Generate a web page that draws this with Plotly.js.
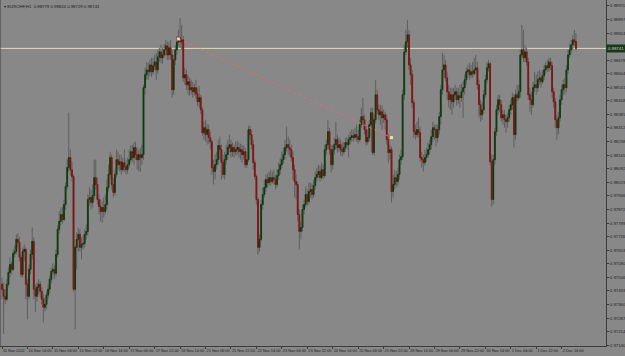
<!DOCTYPE html>
<html>
<head>
<meta charset="utf-8">
<script src="https://cdn.plot.ly/plotly-3.0.1.min.js"></script>
<style>
html,body{margin:0;padding:0;background:#888888;}
#chart{width:625px;height:356px;}
</style>
</head>
<body>
<div id="chart"></div>
<script>
// EURCHF H1, 11 Nov 2022 22:00 -> 2 Dec 2022 23:00 (one value per hourly bar)
const openP = [
0.97469,0.97442,0.97404,0.97388,0.97469,0.97533,0.97576,0.97549,0.97635,0.97646,
0.97711,0.97695,0.97614,0.97522,0.97646,0.97657,0.97469,0.97404,0.97549,0.97630,
0.97700,0.97442,0.97404,0.97453,0.97469,0.97431,0.97388,0.97345,0.97361,0.97410,
0.97442,0.97496,0.97539,0.97549,0.97528,0.97630,0.97765,0.97808,0.97845,0.97818,
0.97899,0.97996,0.98098,0.98152,0.98087,0.98050,0.97442,0.97668,0.97711,0.97738,
0.97668,0.97684,0.97689,0.97738,0.97754,0.97926,0.97937,0.97910,0.97947,0.98044,
0.98007,0.97926,0.97888,0.97861,0.97883,0.97861,0.97899,0.97991,0.98061,0.98152,
0.98007,0.97964,0.98061,0.98141,0.98114,0.98130,0.98087,0.98125,0.98103,0.98087,
0.98114,0.98141,0.98184,0.98152,0.98206,0.98168,0.98141,0.98168,0.98152,0.98168,
0.98529,0.98599,0.98625,0.98615,0.98652,0.98615,0.98647,0.98668,0.98625,0.98695,
0.98722,0.98690,0.98706,0.98733,0.98755,0.98706,0.98744,0.98706,0.98518,0.98679,
0.98733,0.98776,0.98798,0.98776,0.98787,0.98582,0.98599,0.98545,0.98561,0.98518,
0.98529,0.98507,0.98529,0.98496,0.98453,0.98475,0.98410,0.98286,0.98313,0.98276,
0.98303,0.98260,0.98238,0.98098,0.98077,0.98114,0.98141,0.98217,0.98195,0.98125,
0.98061,0.98141,0.98168,0.98206,0.98222,0.98184,0.98206,0.98184,0.98195,0.98206,
0.98184,0.98195,0.98168,0.98184,0.98114,0.98141,0.98303,0.98276,0.98222,0.98125,
0.98050,0.97926,0.97668,0.97711,0.97899,0.97953,0.97991,0.98034,0.98017,0.98044,
0.98023,0.98044,0.98034,0.98007,0.98055,0.98087,0.98114,0.98141,0.98168,0.98206,
0.98222,0.98206,0.98195,0.98152,0.98087,0.98023,0.98007,0.97845,0.97754,0.97775,
0.97872,0.97899,0.97953,0.97915,0.97969,0.97980,0.97953,0.98001,0.98044,0.98061,
0.98077,0.98044,0.98087,0.98055,0.98195,0.98222,0.98292,0.98195,0.98114,0.98195,
0.98222,0.98249,0.98206,0.98222,0.98195,0.98184,0.98206,0.98233,0.98222,0.98249,
0.98260,0.98270,0.98260,0.98276,0.98265,0.98249,0.98330,0.98373,0.98356,0.98303,
0.98238,0.98260,0.98330,0.98394,0.98179,0.98356,0.98491,0.98410,0.98383,0.98399,
0.98367,0.98383,0.98356,0.98249,0.98179,0.98195,0.97969,0.98007,0.98044,0.98023,
0.98061,0.98141,0.98157,0.98491,0.98722,0.98776,0.98814,0.98652,0.98599,0.98448,
0.98292,0.98276,0.98303,0.98286,0.98152,0.98141,0.98125,0.98152,0.98168,0.98195,
0.98222,0.98265,0.98313,0.98303,0.98260,0.98303,0.98373,0.98518,0.98625,0.98652,
0.98582,0.98507,0.98464,0.98491,0.98453,0.98491,0.98507,0.98464,0.98486,0.98475,
0.98507,0.98529,0.98572,0.98615,0.98625,0.98599,0.98615,0.98604,0.98625,0.98636,
0.98545,0.98437,0.98383,0.98410,0.98491,0.98572,0.98636,0.98658,0.98130,0.97926,
0.98141,0.98292,0.98410,0.98464,0.98437,0.98367,0.98383,0.98356,0.98346,0.98367,
0.98410,0.98437,0.98475,0.98276,0.98491,0.98475,0.98507,0.98706,0.98733,0.98690,
0.98722,0.98668,0.98491,0.98464,0.98437,0.98529,0.98545,0.98529,0.98572,0.98582,
0.98561,0.98593,0.98625,0.98647,0.98636,0.98668,0.98647,0.98507,0.98453,0.98356,
0.98313,0.98367,0.98464,0.98518,0.98545,0.98529,0.98625,0.98706,0.98733,0.98760,
0.98787,0.98779];
const highP = [
0.97506,0.97479,0.97442,0.97496,0.97560,0.97614,0.97592,0.97657,0.97679,0.97738,
0.97743,0.97722,0.97630,0.97668,0.97684,0.97668,0.97496,0.97576,0.97657,0.97775,
0.97722,0.97469,0.97479,0.97496,0.97485,0.97453,0.97415,0.97399,0.97431,0.97469,
0.97517,0.97560,0.97582,0.97571,0.97657,0.97786,0.97861,0.97883,0.97888,0.97926,
0.98017,0.98141,0.98394,0.98195,0.98130,0.98061,0.97684,0.97749,0.97775,0.97765,
0.97722,0.97732,0.97765,0.97792,0.97953,0.97991,0.97980,0.98007,0.98141,0.98141,
0.98044,0.97953,0.97926,0.97915,0.97937,0.97953,0.98034,0.98114,0.98184,0.98168,
0.98044,0.98087,0.98195,0.98184,0.98168,0.98168,0.98152,0.98195,0.98141,0.98152,
0.98195,0.98217,0.98222,0.98233,0.98238,0.98206,0.98195,0.98206,0.98222,0.98545,
0.98636,0.98668,0.98663,0.98679,0.98690,0.98690,0.98706,0.98717,0.98733,0.98744,
0.98760,0.98744,0.98765,0.98787,0.98776,0.98776,0.98787,0.98733,0.98706,0.98760,
0.98808,0.98841,0.98905,0.98867,0.98808,0.98636,0.98625,0.98593,0.98582,0.98572,
0.98561,0.98550,0.98572,0.98529,0.98539,0.98491,0.98426,0.98346,0.98356,0.98335,
0.98330,0.98292,0.98249,0.98141,0.98168,0.98184,0.98249,0.98265,0.98222,0.98168,
0.98184,0.98222,0.98249,0.98276,0.98249,0.98233,0.98222,0.98238,0.98243,0.98233,
0.98227,0.98222,0.98217,0.98206,0.98184,0.98324,0.98324,0.98303,0.98249,0.98141,
0.98061,0.97937,0.97738,0.97926,0.97991,0.98034,0.98061,0.98066,0.98077,0.98087,
0.98077,0.98087,0.98061,0.98087,0.98125,0.98152,0.98184,0.98206,0.98249,0.98319,
0.98265,0.98249,0.98222,0.98184,0.98114,0.98061,0.98023,0.97872,0.97808,0.97899,
0.97926,0.97996,0.97980,0.98017,0.98017,0.98012,0.98034,0.98077,0.98098,0.98114,
0.98109,0.98125,0.98114,0.98222,0.98249,0.98356,0.98313,0.98222,0.98222,0.98260,
0.98346,0.98276,0.98260,0.98249,0.98233,0.98238,0.98260,0.98260,0.98276,0.98292,
0.98303,0.98303,0.98313,0.98330,0.98303,0.98356,0.98421,0.98475,0.98383,0.98330,
0.98303,0.98356,0.98421,0.98421,0.98383,0.98572,0.98518,0.98437,0.98437,0.98432,
0.98410,0.98399,0.98383,0.98276,0.98222,0.98211,0.98061,0.98087,0.98077,0.98098,
0.98168,0.98195,0.98518,0.98760,0.98841,0.98894,0.98841,0.98690,0.98625,0.98464,
0.98330,0.98346,0.98367,0.98319,0.98184,0.98168,0.98195,0.98206,0.98233,0.98249,
0.98303,0.98346,0.98330,0.98330,0.98330,0.98399,0.98545,0.98717,0.98706,0.98679,
0.98615,0.98545,0.98529,0.98529,0.98529,0.98545,0.98529,0.98529,0.98545,0.98550,
0.98561,0.98599,0.98636,0.98652,0.98663,0.98652,0.98668,0.98690,0.98706,0.98668,
0.98572,0.98464,0.98453,0.98518,0.98599,0.98668,0.98679,0.98668,0.98168,0.98168,
0.98313,0.98437,0.98491,0.98491,0.98464,0.98410,0.98410,0.98383,0.98394,0.98437,
0.98464,0.98502,0.98491,0.98518,0.98545,0.98545,0.98733,0.98867,0.98841,0.98760,
0.98744,0.98690,0.98529,0.98507,0.98561,0.98615,0.98599,0.98615,0.98625,0.98615,
0.98625,0.98652,0.98668,0.98679,0.98690,0.98690,0.98668,0.98529,0.98475,0.98383,
0.98399,0.98491,0.98545,0.98572,0.98582,0.98652,0.98733,0.98765,0.98787,0.98814,
0.98841,0.98824];
const lowP = [
0.97388,0.97200,0.97361,0.97377,0.97453,0.97506,0.97522,0.97539,0.97614,0.97630,
0.97668,0.97592,0.97506,0.97506,0.97592,0.97388,0.97280,0.97388,0.97522,0.97603,
0.97388,0.97318,0.97377,0.97415,0.97399,0.97361,0.97264,0.97323,0.97334,0.97388,
0.97420,0.97474,0.97517,0.97496,0.97512,0.97614,0.97743,0.97786,0.97797,0.97808,
0.97872,0.97980,0.98077,0.98055,0.98023,0.97431,0.97227,0.97549,0.97646,0.97646,
0.97603,0.97657,0.97668,0.97711,0.97732,0.97894,0.97872,0.97883,0.97926,0.97980,
0.97899,0.97845,0.97808,0.97802,0.97829,0.97845,0.97872,0.97969,0.98034,0.97980,
0.97937,0.97947,0.98044,0.98087,0.98077,0.98061,0.98077,0.98077,0.98061,0.98066,
0.98098,0.98125,0.98130,0.98114,0.98141,0.98087,0.98077,0.98077,0.98114,0.98141,
0.98491,0.98572,0.98572,0.98593,0.98588,0.98599,0.98625,0.98572,0.98604,0.98668,
0.98663,0.98658,0.98690,0.98701,0.98679,0.98679,0.98679,0.98475,0.98491,0.98652,
0.98706,0.98755,0.98744,0.98733,0.98561,0.98545,0.98518,0.98491,0.98486,0.98491,
0.98475,0.98486,0.98469,0.98432,0.98421,0.98389,0.98270,0.98249,0.98238,0.98222,
0.98227,0.98195,0.98061,0.98007,0.98034,0.98087,0.98114,0.98141,0.98034,0.98044,
0.98034,0.98114,0.98141,0.98179,0.98152,0.98157,0.98152,0.98163,0.98168,0.98152,
0.98141,0.98125,0.98141,0.98098,0.98098,0.98130,0.98249,0.98195,0.98087,0.98034,
0.97899,0.97630,0.97646,0.97700,0.97872,0.97937,0.97969,0.97991,0.98001,0.98001,
0.98012,0.98007,0.97980,0.97991,0.98034,0.98061,0.98098,0.98120,0.98141,0.98184,
0.98168,0.98157,0.98130,0.98034,0.97937,0.97926,0.97808,0.97657,0.97711,0.97754,
0.97845,0.97883,0.97894,0.97899,0.97937,0.97926,0.97937,0.97980,0.98023,0.98044,
0.98023,0.98034,0.98034,0.98044,0.98168,0.98206,0.98168,0.98071,0.98087,0.98168,
0.98195,0.98179,0.98184,0.98163,0.98157,0.98168,0.98184,0.98195,0.98152,0.98222,
0.98238,0.98238,0.98249,0.98238,0.98227,0.98238,0.98313,0.98330,0.98276,0.98217,
0.98222,0.98238,0.98313,0.98168,0.98163,0.98335,0.98389,0.98356,0.98330,0.98303,
0.98340,0.98303,0.98222,0.98125,0.98141,0.97910,0.97937,0.97980,0.97991,0.98001,
0.98034,0.98114,0.98141,0.98464,0.98706,0.98744,0.98625,0.98545,0.98421,0.98260,
0.98249,0.98260,0.98260,0.98130,0.98098,0.98077,0.98109,0.98130,0.98152,0.98168,
0.98195,0.98238,0.98249,0.98211,0.98238,0.98276,0.98330,0.98491,0.98582,0.98561,
0.98464,0.98421,0.98410,0.98383,0.98421,0.98464,0.98432,0.98442,0.98421,0.98453,
0.98367,0.98491,0.98545,0.98582,0.98572,0.98582,0.98582,0.98593,0.98604,0.98518,
0.98367,0.98346,0.98356,0.98389,0.98475,0.98550,0.98615,0.98114,0.97888,0.97899,
0.98114,0.98270,0.98383,0.98399,0.98346,0.98330,0.98313,0.98286,0.98313,0.98346,
0.98383,0.98410,0.98206,0.98249,0.98453,0.98464,0.98475,0.98690,0.98668,0.98668,
0.98647,0.98464,0.98399,0.98383,0.98421,0.98507,0.98491,0.98507,0.98545,0.98529,
0.98550,0.98572,0.98604,0.98615,0.98615,0.98625,0.98475,0.98421,0.98313,0.98249,
0.98276,0.98346,0.98437,0.98491,0.98491,0.98507,0.98604,0.98690,0.98711,0.98733,
0.98755,0.98729];
const closeP = [
0.97442,0.97404,0.97388,0.97469,0.97533,0.97576,0.97549,0.97635,0.97646,0.97711,
0.97695,0.97614,0.97522,0.97646,0.97657,0.97469,0.97404,0.97549,0.97630,0.97700,
0.97442,0.97404,0.97453,0.97469,0.97431,0.97388,0.97345,0.97361,0.97410,0.97442,
0.97496,0.97539,0.97549,0.97528,0.97630,0.97765,0.97808,0.97845,0.97818,0.97899,
0.97996,0.98098,0.98152,0.98087,0.98050,0.97442,0.97668,0.97711,0.97738,0.97668,
0.97684,0.97689,0.97738,0.97754,0.97926,0.97937,0.97910,0.97947,0.98044,0.98007,
0.97926,0.97888,0.97861,0.97883,0.97861,0.97899,0.97991,0.98061,0.98152,0.98007,
0.97964,0.98061,0.98141,0.98114,0.98130,0.98087,0.98125,0.98103,0.98087,0.98114,
0.98141,0.98184,0.98152,0.98206,0.98168,0.98141,0.98168,0.98152,0.98168,0.98529,
0.98599,0.98625,0.98615,0.98652,0.98615,0.98647,0.98668,0.98625,0.98695,0.98722,
0.98690,0.98706,0.98733,0.98755,0.98706,0.98744,0.98706,0.98518,0.98679,0.98733,
0.98776,0.98798,0.98776,0.98787,0.98582,0.98599,0.98545,0.98561,0.98518,0.98529,
0.98507,0.98529,0.98496,0.98453,0.98475,0.98410,0.98286,0.98313,0.98276,0.98303,
0.98260,0.98238,0.98098,0.98077,0.98114,0.98141,0.98217,0.98195,0.98125,0.98061,
0.98141,0.98168,0.98206,0.98222,0.98184,0.98206,0.98184,0.98195,0.98206,0.98184,
0.98195,0.98168,0.98184,0.98114,0.98141,0.98303,0.98276,0.98222,0.98125,0.98050,
0.97926,0.97668,0.97711,0.97899,0.97953,0.97991,0.98034,0.98017,0.98044,0.98023,
0.98044,0.98034,0.98007,0.98055,0.98087,0.98114,0.98141,0.98168,0.98206,0.98222,
0.98206,0.98195,0.98152,0.98087,0.98023,0.98007,0.97845,0.97754,0.97775,0.97872,
0.97899,0.97953,0.97915,0.97969,0.97980,0.97953,0.98001,0.98044,0.98061,0.98077,
0.98044,0.98087,0.98055,0.98195,0.98222,0.98292,0.98195,0.98114,0.98195,0.98222,
0.98249,0.98206,0.98222,0.98195,0.98184,0.98206,0.98233,0.98222,0.98249,0.98260,
0.98270,0.98260,0.98276,0.98265,0.98249,0.98330,0.98373,0.98356,0.98303,0.98238,
0.98260,0.98330,0.98394,0.98179,0.98356,0.98491,0.98410,0.98383,0.98399,0.98367,
0.98383,0.98356,0.98249,0.98179,0.98195,0.97969,0.98007,0.98044,0.98023,0.98061,
0.98141,0.98157,0.98491,0.98722,0.98776,0.98814,0.98652,0.98599,0.98448,0.98292,
0.98276,0.98303,0.98286,0.98152,0.98141,0.98125,0.98152,0.98168,0.98195,0.98222,
0.98265,0.98313,0.98303,0.98260,0.98303,0.98373,0.98518,0.98625,0.98652,0.98582,
0.98507,0.98464,0.98491,0.98453,0.98491,0.98507,0.98464,0.98486,0.98475,0.98507,
0.98529,0.98572,0.98615,0.98625,0.98599,0.98615,0.98604,0.98625,0.98636,0.98545,
0.98437,0.98383,0.98410,0.98491,0.98572,0.98636,0.98658,0.98130,0.97926,0.98141,
0.98292,0.98410,0.98464,0.98437,0.98367,0.98383,0.98356,0.98346,0.98367,0.98410,
0.98437,0.98475,0.98276,0.98491,0.98475,0.98507,0.98706,0.98733,0.98690,0.98722,
0.98668,0.98491,0.98464,0.98437,0.98529,0.98545,0.98529,0.98572,0.98582,0.98561,
0.98593,0.98625,0.98647,0.98636,0.98668,0.98647,0.98507,0.98453,0.98356,0.98313,
0.98367,0.98464,0.98518,0.98545,0.98529,0.98625,0.98706,0.98733,0.98760,0.98787,
0.98776,0.98741];

// time-axis labels (one every 16 bars, starting at the first bar)
const xTickLabels = ["11 Nov 2022","14 Nov 14:00","15 Nov 06:00","15 Nov 22:00","16 Nov 14:00",
"17 Nov 06:00","17 Nov 22:00","18 Nov 14:00","21 Nov 06:00","21 Nov 22:00","22 Nov 14:00",
"23 Nov 06:00","23 Nov 22:00","24 Nov 14:00","25 Nov 06:00","25 Nov 22:00","28 Nov 14:00",
"29 Nov 06:00","29 Nov 22:00","30 Nov 14:00","1 Dec 06:00","1 Dec 22:00","2 Dec 14:00"];
const xTickStep = 16;

// price-axis labels (the one under the current-price box is hidden in the reference)
const yTickVals = [0.98970,0.98897,0.98824,0.98678,0.98604,0.98531,0.98458,0.98385,
0.98312,0.98238,0.98165,0.98092,0.98019,0.97946,0.97872,0.97799,0.97726,0.97653,0.97580,
0.97506,0.97433,0.97360,0.97287,0.97214,0.97140];

// trend line drawn on the chart (bar index, price)
const trendBars = [111, 245];
const trendPrices = [0.98792, 0.98260];

const symbolName = "EURCHF,H1";

// ---------------------------------------------------------------
const n = closeP.length;
const xIdx = closeP.map((_, i) => i);
const bodyHigh = openP.map((o, i) => Math.max(o, closeP[i]));
const bodyLow = openP.map((o, i) => Math.min(o, closeP[i]));
const tickPos = xTickLabels.map((_, k) => k * xTickStep);
const last = n - 1;
const lastClose = closeP[last];
const fmt = v => v.toFixed(5);

const FONT = "Liberation Sans, Arial, sans-serif";
const AXC = "#3c3c3c";

const wick = {
  type: "candlestick", x: xIdx, open: openP, high: highP, low: lowP, close: closeP,
  increasing: {line: {color: "#5e5e5e", width: 1}, fillcolor: "#5e5e5e"},
  decreasing: {line: {color: "#5e5e5e", width: 1}, fillcolor: "#5e5e5e"},
  whiskerwidth: 0, hoverinfo: "skip", showlegend: false
};
const body = {
  type: "candlestick", x: xIdx, open: openP, high: bodyHigh, low: bodyLow, close: closeP,
  increasing: {line: {color: "rgba(8,60,8,0.85)", width: 1}, fillcolor: "rgba(8,60,8,0.85)"},
  decreasing: {line: {color: "rgba(140,12,12,0.8)", width: 1}, fillcolor: "rgba(140,12,12,0.8)"},
  whiskerwidth: 0, hoverinfo: "skip", showlegend: false
};
const trend = {
  type: "scatter", mode: "lines", x: trendBars, y: trendPrices,
  line: {color: "#e86a6a", width: 1, dash: "dot"}, hoverinfo: "skip", showlegend: false
};
const trendStart = {
  type: "scatter", mode: "markers", x: [trendBars[0]], y: [trendPrices[0]],
  marker: {symbol: "square", size: 3, color: "#f4e0e0", line: {color: "#e05050", width: 0.5}},
  hoverinfo: "skip", showlegend: false
};
const trendEnd = {
  type: "scatter", mode: "markers", x: [trendBars[1]], y: [trendPrices[1]],
  marker: {symbol: "square", size: 3, color: "#ece2a0"},
  hoverinfo: "skip", showlegend: false
};

const layout = {
  width: 625, height: 356,
  margin: {l: 0, r: 19, t: 0, b: 10, pad: 0},
  paper_bgcolor: "#888888", plot_bgcolor: "#888888",
  font: {family: FONT, size: 4.3, color: "#222222"},
  showlegend: false,
  xaxis: {
    range: [-1.26, 379.9], showgrid: false, zeroline: false,
    showline: true, linecolor: AXC, linewidth: 1,
    ticks: "outside", ticklen: 2, tickwidth: 1, tickcolor: AXC,
    tickvals: tickPos, ticktext: xTickLabels, tickangle: 0,
    ticklabelposition: "outside right", ticklabelstandoff: 0,
    tickfont: {family: FONT, size: 3.9, color: "#222222"},
    rangeslider: {visible: false}, fixedrange: true
  },
  yaxis: {
    range: [0.97136, 0.99002], side: "right", showgrid: false, zeroline: false,
    showline: true, linecolor: AXC, linewidth: 1,
    ticks: "outside", ticklen: 2, tickwidth: 1, tickcolor: AXC,
    tickvals: yTickVals, tickformat: ".5f",
    tickfont: {family: FONT, size: 4.3, color: "#222222"},
    fixedrange: true
  },
  shapes: [
    {type: "line", xref: "paper", yref: "y", x0: 0, x1: 1, y0: lastClose, y1: lastClose,
     line: {color: "#dedcb8", width: 1}, layer: "below"},
    {type: "line", xref: "paper", yref: "paper", x0: 0, x1: 0, y0: 0, y1: 1,
     line: {color: AXC, width: 1}}
  ],
  annotations: [
    {xref: "paper", yref: "paper", x: 0.004, y: 0.995, xanchor: "left", yanchor: "top",
     showarrow: false, align: "left",
     text: "▾ " + symbolName + "  " + fmt(openP[last]) + " " + fmt(highP[last]) + " " + fmt(lowP[last]) + " " + fmt(closeP[last]),
     font: {family: FONT, size: 4.3, color: "#1a1a1a"}},
    {xref: "paper", yref: "y", x: 1, y: lastClose, xanchor: "left", yanchor: "middle",
     showarrow: false, text: fmt(lastClose), bgcolor: "#183818", borderpad: 1,
     font: {family: FONT, size: 4.3, color: "#d0d0d0"}}
  ]
};

Plotly.newPlot("chart", [wick, body, trend, trendStart, trendEnd], layout,
  {staticPlot: true, displayModeBar: false});
</script>
</body>
</html>
